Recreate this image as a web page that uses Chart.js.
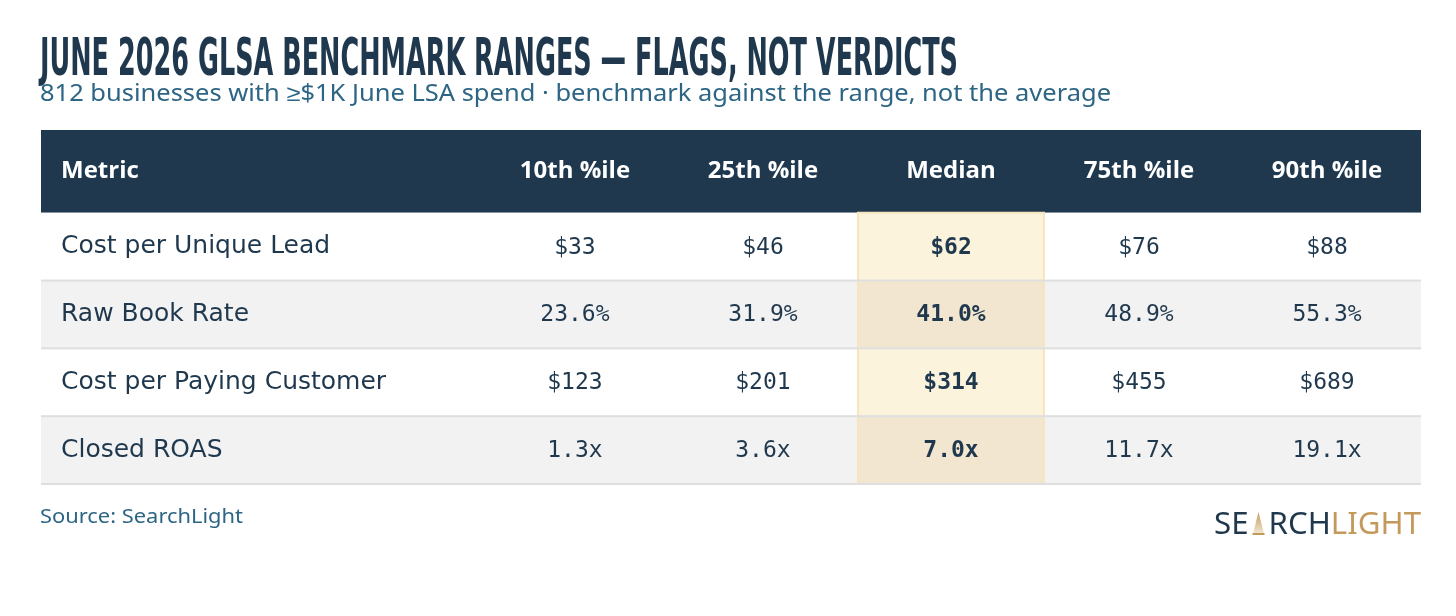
<!DOCTYPE html>
<html lang="en">
<head>
    <meta charset="UTF-8">
    <title>June 2026 GLSA Benchmark Ranges</title>
    <script src="https://cdn.jsdelivr.net/npm/chart.js"></script>
    <style>
        body {
            margin: 0;
            background-color: #ffffff;
        }
        canvas {
            display: block;
        }
    </style>
</head>
<body>
    <canvas id="benchChart" width="1456" height="616"></canvas>

    <script>
        // table content
        const columns = ['Metric', '10th %ile', '25th %ile', 'Median', '75th %ile', '90th %ile'];
        const metrics = ['Cost per Unique Lead', 'Raw Book Rate', 'Cost per Paying Customer', 'Closed ROAS'];
        const p10 = ['$33', '23.6%', '$123', '1.3x'];
        const p25 = ['$46', '31.9%', '$201', '3.6x'];
        const median = ['$62', '41.0%', '$314', '7.0x'];
        const p75 = ['$76', '48.9%', '$455', '11.7x'];
        const p90 = ['$88', '55.3%', '$689', '19.1x'];

        const titleText = 'JUNE 2026 GLSA BENCHMARK RANGES \u2014 FLAGS, NOT VERDICTS';
        const subtitleText = '812 businesses with \u2265$1K June LSA spend \u00b7 benchmark against the range, not the average';
        const sourceText = 'Source: SearchLight';

        // layout weights (metric column is wider, header row is taller)
        const metricWeight = 2.34;
        const headerWeight = 1.22;

        const navy = '#1f384d';
        const valueCols = [p10, p25, median, p75, p90];
        const medianIdx = 2;

        const colCenter = i => i === 0 ? metricWeight / 2 : metricWeight + (i - 1) + 0.5;
        const rowCenter = r => headerWeight + r + 0.5;

        // one dataset per column; points sit at cell centres
        const datasets = [];
        datasets.push({
            label: 'Metric',
            data: metrics.map((m, r) => ({ x: colCenter(0), y: rowCenter(r), v: m })),
            pointRadius: 0
        });
        valueCols.forEach((col, c) => {
            datasets.push({
                label: columns[c + 1],
                data: col.map((v, r) => ({ x: colCenter(c + 1), y: rowCenter(r), v: v })),
                pointRadius: 0
            });
        });
        datasets.push({
            label: 'header',
            data: columns.map((h, c) => ({ x: colCenter(c), y: headerWeight / 2, v: h })),
            pointRadius: 0
        });

        // draw text squeezed/stretched horizontally to a given width
        function fitText(ctx, txt, x, y, width) {
            const w = ctx.measureText(txt).width;
            ctx.save();
            ctx.translate(x, y);
            ctx.scale(width / w, 1);
            ctx.fillText(txt, 0, 0);
            ctx.restore();
        }

        const tablePlugin = {
            id: 'tablePlugin',
            beforeDatasetsDraw(chart) {
                const { ctx, scales: { x, y } } = chart;
                const left = x.getPixelForValue(0);
                const right = x.getPixelForValue(metricWeight + 5);
                const mx0 = x.getPixelForValue(metricWeight + medianIdx);
                const mx1 = x.getPixelForValue(metricWeight + medianIdx + 1);
                ctx.save();
                // header band
                ctx.fillStyle = navy;
                ctx.fillRect(left, y.getPixelForValue(0), right - left,
                    y.getPixelForValue(headerWeight) - y.getPixelForValue(0));
                // zebra rows + median highlight
                metrics.forEach((m, r) => {
                    const top = y.getPixelForValue(headerWeight + r);
                    const bot = y.getPixelForValue(headerWeight + r + 1);
                    ctx.fillStyle = r % 2 === 1 ? '#f2f2f2' : '#ffffff';
                    ctx.fillRect(left, top, right - left, bot - top);
                    ctx.fillStyle = r % 2 === 1 ? '#f3e6d0' : '#fcf3dd';
                    ctx.fillRect(mx0, top, mx1 - mx0, bot - top);
                });
                // median column border
                const ty = y.getPixelForValue(headerWeight);
                const by = y.getPixelForValue(headerWeight + metrics.length);
                ctx.strokeStyle = '#f6e6bf';
                ctx.lineWidth = 2;
                ctx.strokeRect(mx0 + 1, ty, mx1 - mx0 - 2, by - ty);
                // row separators
                ctx.fillStyle = '#dfdfdf';
                metrics.forEach((m, r) => {
                    const yy = y.getPixelForValue(headerWeight + r + 1);
                    ctx.fillRect(left, yy - 1, right - left, 2);
                });
                ctx.restore();
            },
            afterDatasetsDraw(chart) {
                const { ctx } = chart;
                ctx.save();
                ctx.textBaseline = 'middle';
                chart.data.datasets.forEach((ds, di) => {
                    const meta = chart.getDatasetMeta(di);
                    meta.data.forEach((pt, i) => {
                        const txt = ds.data[i].v;
                        if (ds.label === 'header') {
                            ctx.fillStyle = '#ffffff';
                            ctx.font = 'bold 24px "Open Sans", "DejaVu Sans", sans-serif';
                            if (i === 0) {
                                ctx.textAlign = 'left';
                                ctx.fillText(txt, 61, pt.y);
                            } else {
                                ctx.textAlign = 'center';
                                ctx.fillText(txt, pt.x, pt.y);
                            }
                        } else if (ds.label === 'Metric') {
                            ctx.fillStyle = navy;
                            ctx.font = '25px "DejaVu Sans", sans-serif';
                            ctx.textAlign = 'left';
                            ctx.fillText(txt, 61, pt.y);
                        } else {
                            const isMed = ds.label === 'Median';
                            ctx.fillStyle = navy;
                            ctx.font = (isMed ? 'bold ' : '') + '23px "DejaVu Sans Mono", monospace';
                            ctx.textAlign = 'center';
                            ctx.fillText(txt, pt.x, pt.y + 1);
                        }
                    });
                });
                ctx.restore();
            },
            afterDraw(chart) {
                const { ctx } = chart;
                ctx.save();
                ctx.textAlign = 'left';
                ctx.textBaseline = 'alphabetic';

                // condensed headline
                ctx.fillStyle = navy;
                ctx.font = 'bold 52px "DejaVu Sans", sans-serif';
                fitText(ctx, titleText, 40, 75, 918);

                ctx.fillStyle = '#2d6585';
                ctx.font = '23px "Noto Sans", sans-serif';
                fitText(ctx, subtitleText, 40, 101, 1071);

                ctx.font = '19px "Noto Sans", sans-serif';
                fitText(ctx, sourceText, 40, 523, 203);

                // wordmark
                const parts = [
                    { t: 'SE', c: navy },
                    { t: 'A', c: null },
                    { t: 'RCH', c: navy },
                    { t: 'LIGHT', c: '#c39a5c' }
                ];
                ctx.font = '31px "Noto Sans", sans-serif';
                let total = 0;
                parts.forEach(p => { p.w = ctx.measureText(p.t).width; total += p.w; });
                const sx = 207 / total;
                let px = 1421 - 207;
                parts.forEach(p => {
                    if (p.c) {
                        ctx.save();
                        ctx.translate(px, 534);
                        ctx.scale(sx, 1);
                        ctx.fillStyle = p.c;
                        ctx.fillText(p.t, 0, 0);
                        ctx.restore();
                    } else {
                        const aw = p.w * sx;
                        const g = ctx.createLinearGradient(0, 512, 0, 534);
                        g.addColorStop(0, '#c39a5c');
                        g.addColorStop(1, '#f3e8d4');
                        ctx.fillStyle = g;
                        ctx.beginPath();
                        ctx.moveTo(px + aw / 2, 512);
                        ctx.lineTo(px + aw * 0.78, 534);
                        ctx.lineTo(px + aw * 0.22, 534);
                        ctx.closePath();
                        ctx.fill();
                        ctx.fillStyle = '#c39a5c';
                        ctx.fillRect(px + aw * 0.2, 533, aw * 0.6, 2);
                    }
                    px += p.w * sx;
                });
                ctx.restore();
            }
        };

        const ctx = document.getElementById('benchChart').getContext('2d');
        const chart = new Chart(ctx, {
            type: 'scatter',
            data: { datasets: datasets },
            options: {
                responsive: false,
                animation: false,
                devicePixelRatio: 1,
                layout: {
                    padding: { left: 41, right: 35, top: 130, bottom: 132 }
                },
                scales: {
                    x: { type: 'linear', min: 0, max: metricWeight + 5, display: false },
                    y: { type: 'linear', min: 0, max: headerWeight + metrics.length, reverse: true, display: false }
                },
                plugins: {
                    legend: { display: false },
                    tooltip: { enabled: false }
                }
            },
            plugins: [tablePlugin]
        });
    </script>
</body>
</html>
